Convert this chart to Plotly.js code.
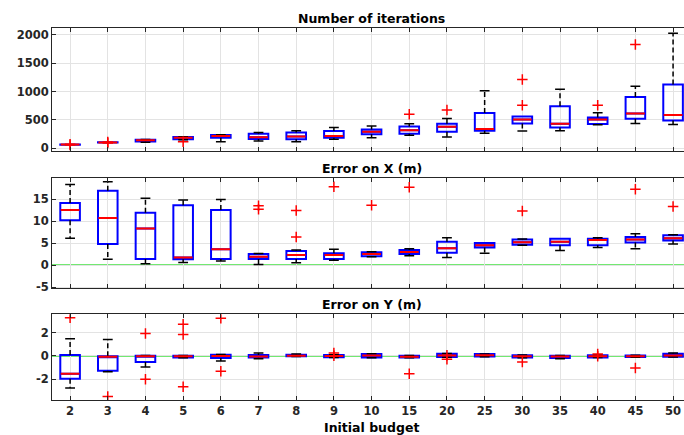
<!DOCTYPE html>
<html>
<head>
<meta charset="utf-8">
<script src="https://cdn.plot.ly/plotly-3.0.1.min.js"></script>
<style>html,body{margin:0;padding:0;background:#fff;}#chart{width:684px;height:435px;}</style>
</head>
<body>
<div id="chart"></div>
<script>
// ---- data ----
const budgets = ['2','3','4','5','6','7','8','9','10','15','20','25','30','35','40','45','50'];

// Number of iterations
const iterQ1  = [62, 100, 120, 160, 187, 164, 158, 187, 246, 257, 292, 310, 439, 368, 427, 520, 491];
const iterMed = [65, 104, 140, 185, 216, 193, 210, 216, 292, 316, 380, 339, 509, 433, 509, 614, 585];
const iterQ3  = [67, 106, 150, 200, 234, 257, 280, 304, 333, 386, 433, 620, 561, 743, 544, 906, 1123];
const iterLo  = [62, 100, 105, 150, 117, 129, 117, 158, 187, 228, 199, 263, 304, 310, 415, 439, 421];
const iterHi  = [67, 106, 155, 205, 240, 280, 310, 368, 392, 433, 526, 1012, 561, 1041, 626, 1094, 2029];
const iterOut = [[60, 70], [95, 110], [], [115], [], [], [], [], [], [602], [673], [], [760, 1211], [], [760], [1830], []];

// Error on X (m)
const exQ1  = [10.2, 4.8, 1.4, 1.3, 1.4, 1.4, 1.4, 1.4, 2.0, 2.5, 2.8, 4.0, 4.6, 4.5, 4.5, 5.1, 5.6];
const exMed = [12.5, 10.7, 8.3, 1.7, 3.6, 1.9, 2.3, 2.3, 2.5, 2.95, 3.8, 4.5, 5.2, 5.3, 5.7, 5.8, 6.1];
const exQ3  = [14.1, 16.9, 11.9, 13.6, 12.5, 2.5, 3.2, 2.7, 2.9, 3.4, 5.3, 5.0, 5.8, 6.0, 6.0, 6.4, 6.8];
const exLo  = [6.1, 1.3, 0.3, 0.6, 0.9, 0.15, 0.5, 1.1, 1.9, 2.1, 1.7, 2.7, 4.5, 3.3, 4.0, 3.7, 4.8];
const exHi  = [18.3, 18.9, 15.2, 14.8, 14.9, 2.6, 3.4, 3.6, 3.0, 3.7, 6.2, 5.0, 5.9, 6.0, 6.2, 7.1, 6.9];
const exOut = [[], [], [], [], [], [13.5, 12.7], [12.4, 6.4], [17.8], [13.6], [17.7], [], [], [12.3], [], [], [17.2], [13.3]];

// Error on Y (m)
const eyQ1  = [-1.96, -1.27, -0.52, -0.12, -0.17, -0.12, -0.02, -0.10, -0.14, -0.14, -0.08, -0.05, -0.14, -0.17, -0.12, -0.08, -0.06];
const eyMed = [-1.53, -0.06, -0.03, -0.02, 0.00, -0.04, 0.02, 0.00, 0.05, -0.06, 0.05, 0.06, -0.03, -0.05, -0.03, -0.03, 0.05];
const eyQ3  = [0.09, -0.03, 0.03, 0.03, 0.10, 0.08, 0.10, 0.08, 0.18, 0.02, 0.20, 0.16, 0.06, 0.03, 0.06, 0.05, 0.20];
const eyLo  = [-2.76, -1.35, -0.95, -0.15, -0.43, -0.23, -0.05, -0.12, -0.16, -0.15, -0.10, -0.06, -0.15, -0.23, -0.13, -0.10, -0.08];
const eyHi  = [1.47, 1.41, 0.05, 0.05, 0.12, 0.26, 0.18, 0.10, 0.20, 0.04, 0.22, 0.18, 0.08, 0.05, 0.08, 0.06, 0.26];
const eyOut = [[3.28], [-3.48], [1.93, -1.99], [2.73, 1.84, -2.65], [3.25, -1.32], [], [], [0.26, 0.03], [], [-1.53], [0.06, -0.29], [], [-0.52], [], [0.17, -0.03], [-1.04], []];

// tick labels
const iterTicks = [0, 500, 1000, 1500, 2000];
const iterTickText = ['0', '500', '1000', '1500', '2000'];
const exTicks = [-5, 0, 5, 10, 15];
const exTickText = ['-5', '0', '5', '10', '15'];
const eyTicks = [-2, 0, 2];
const eyTickText = ['-2', '0', '2'];

const titles = ['Number of iterations', 'Error on X (m)', 'Error on Y (m)'];
const xTitle = 'Initial budget';

// ---- build ----
const BLUE = '#0000ff', RED = '#ff0000', INK = '#262626';
const traces = [];
function addPanel(q1, med, q3, lo, hi, out, ax) {
  const xa = 'x' + (ax === 1 ? '' : ax), ya = 'y' + (ax === 1 ? '' : ax);
  traces.push({
    type: 'box', x: budgets, q1: q1, median: med, q3: q3,
    lowerfence: q1, upperfence: q3, boxpoints: false, whiskerwidth: 0,
    width: 0.52, line: {color: BLUE, width: 2}, fillcolor: 'rgba(0,0,0,0)',
    xaxis: xa, yaxis: ya, hoverinfo: 'skip'
  });
  const wx = [], wy = [];
  budgets.forEach((b, i) => {
    if (hi[i] > q3[i]) { wx.push(b, b, null); wy.push(q3[i], hi[i], null); }
    if (lo[i] < q1[i]) { wx.push(b, b, null); wy.push(q1[i], lo[i], null); }
  });
  traces.push({type: 'scatter', mode: 'lines', x: wx, y: wy, xaxis: xa, yaxis: ya,
    line: {color: '#000', width: 1.5, dash: '5px,3px'}, hoverinfo: 'skip'});
  const cx = [], cy = [];
  budgets.forEach((b, i) => {
    if (hi[i] > q3[i]) { cx.push(b); cy.push(hi[i]); }
    if (lo[i] < q1[i]) { cx.push(b); cy.push(lo[i]); }
  });
  traces.push({type: 'scatter', mode: 'markers', x: cx, y: cy, xaxis: xa, yaxis: ya,
    marker: {symbol: 'line-ew', size: 7, line: {color: '#000', width: 1.5}}, hoverinfo: 'skip'});
  traces.push({type: 'scatter', mode: 'markers', x: budgets, y: med, xaxis: xa, yaxis: ya,
    marker: {symbol: 'line-ew', size: 13.4, line: {color: RED, width: 2}}, hoverinfo: 'skip'});
  const ox = [], oy = [];
  budgets.forEach((b, i) => out[i].forEach(v => { ox.push(b); oy.push(v); }));
  traces.push({type: 'scatter', mode: 'markers', x: ox, y: oy, xaxis: xa, yaxis: ya,
    marker: {symbol: 'cross-thin', size: 7.5, line: {color: RED, width: 1.5}}, hoverinfo: 'skip'});
}
addPanel(iterQ1, iterMed, iterQ3, iterLo, iterHi, iterOut, 1);
addPanel(exQ1, exMed, exQ3, exLo, exHi, exOut, 2);
addPanel(eyQ1, eyMed, eyQ3, eyLo, eyHi, eyOut, 3);

const XR = [-0.48, 16.29];
function xAxis(anchor, labels) {
  return {type: 'category', range: XR, anchor: anchor, showgrid: true, gridcolor: '#e3e3e3', gridwidth: 1,
    showline: true, linecolor: INK, linewidth: 1, mirror: 'ticks', ticks: 'inside', ticklen: 4,
    tickcolor: INK, showticklabels: labels, zeroline: false, fixedrange: true,
    tickfont: {family: 'DejaVu Sans', size: 11.5, color: INK, weight: 'bold'}};
}
function yAxis(anchor, dom, range, tv, tt) {
  return {domain: dom, range: range, anchor: anchor, tickmode: 'array', tickvals: tv, ticktext: tt,
    showgrid: true, gridcolor: '#e3e3e3',
    showline: true, linecolor: INK, linewidth: 1, mirror: false, ticks: 'inside', ticklen: 4,
    tickcolor: INK, zeroline: false, fixedrange: true,
    tickfont: {family: 'DejaVu Sans', size: 11.5, color: INK, weight: 'bold'}};
}
const titleFont = {family: 'DejaVu Sans', size: 12.5, color: '#000', weight: 'bold'};
const layout = {
  width: 684, height: 435, margin: {l: 52, r: 0, t: 28, b: 35},
  paper_bgcolor: '#fff', plot_bgcolor: '#fff', showlegend: false,
  font: {family: 'DejaVu Sans', size: 11.5, color: INK},
  xaxis: xAxis('y', false), xaxis2: xAxis('y2', false), xaxis3: xAxis('y3', true),
  yaxis: yAxis('x', [0.669, 1], [-50, 2120], iterTicks, iterTickText),
  yaxis2: yAxis('x2', [0.300, 0.5976], [-5.3, 19.85], exTicks, exTickText),
  yaxis3: yAxis('x3', [0, 0.2304], [-3.78, 3.58], eyTicks, eyTickText),
  shapes: [2, 3].map(k => ({type: 'line', xref: 'x' + k + ' domain', yref: 'y' + k, x0: 0, x1: 1, y0: 0, y1: 0,
    line: {color: '#72e872', width: 2}, layer: 'below'})),
  annotations: [
    {text: titles[0], xref: 'paper', yref: 'paper', x: 0.506, y: 1.026, showarrow: false, font: titleFont, xanchor: 'center', yanchor: 'middle'},
    {text: titles[1], xref: 'paper', yref: 'paper', x: 0.506, y: 0.623, showarrow: false, font: titleFont, xanchor: 'center', yanchor: 'middle'},
    {text: titles[2], xref: 'paper', yref: 'paper', x: 0.506, y: 0.2554, showarrow: false, font: titleFont, xanchor: 'center', yanchor: 'middle'},
    {text: xTitle, xref: 'paper', yref: 'paper', x: 0.506, y: -0.075, showarrow: false, font: titleFont, xanchor: 'center', yanchor: 'middle'}
  ]
};
Plotly.newPlot('chart', traces, layout, {staticPlot: true, displayModeBar: false});
</script>
</body>
</html>
